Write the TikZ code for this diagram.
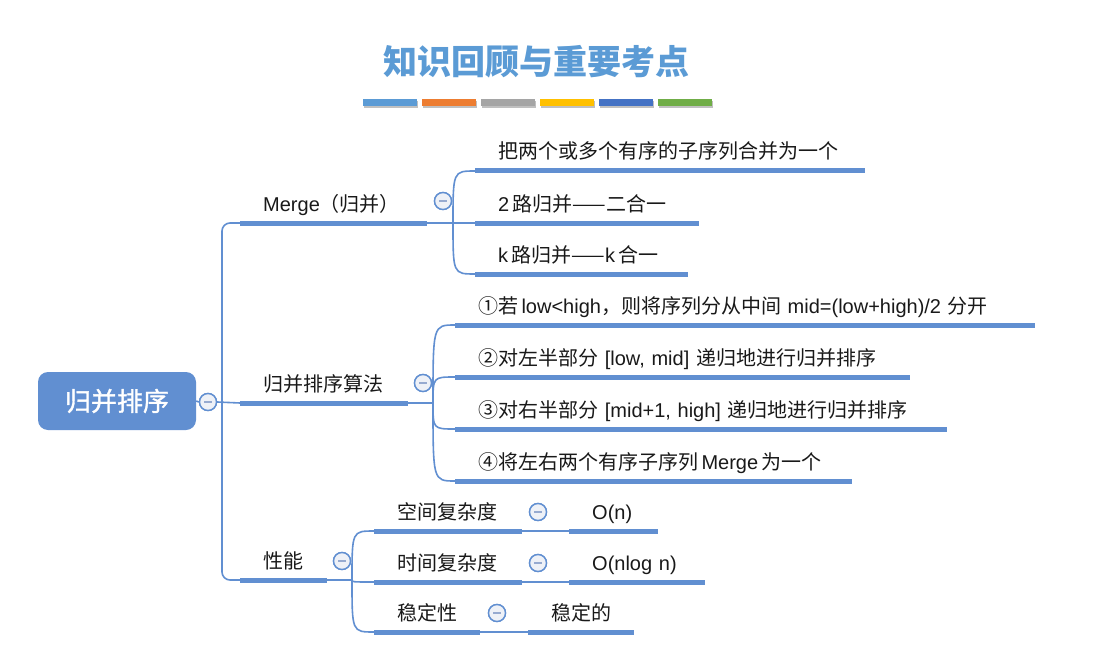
\documentclass[tikz,border=0pt]{standalone}
\usepackage{fontspec}
\setmainfont{Noto Sans CJK SC}
\newfontfamily\lat{Liberation Sans}
\newfontfamily\heavycjk{Noto Sans CJK SC}[FakeBold=1.3]
\usetikzlibrary{shadows}
\definecolor{mapblue}{RGB}{97,143,209}
\definecolor{titleblue}{RGB}{91,155,213}
\definecolor{foldfill}{RGB}{238,241,247}
\definecolor{foldmark}{RGB}{150,170,208}
\definecolor{barA}{RGB}{91,155,213}
\definecolor{barB}{RGB}{237,125,49}
\definecolor{barC}{RGB}{165,165,165}
\definecolor{barD}{RGB}{255,192,0}
\definecolor{barE}{RGB}{68,114,196}
\definecolor{barF}{RGB}{112,173,71}
\definecolor{inkgray}{RGB}{25,25,25}
\begin{document}
\begin{tikzpicture}[x=1pt,y=-1pt,
  conn/.style={draw=mapblue, line width=1.6pt},
  underline/.style={draw=mapblue, line width=5pt},
  topic/.style={anchor=south west, inner xsep=23pt, inner ysep=0pt,
    text height=15pt, text depth=11.8pt, align=left, text=inkgray,
    font=\fontsize{20}{24}\selectfont,
    execute at begin node=\hbox\bgroup, execute at end node=\egroup},
  fold/.style={circle, draw=mapblue, line width=1.4pt, fill=foldfill,
    minimum size=17pt, inner sep=0pt,
    path picture={\draw[foldmark, line width=1.8pt]
      ([xshift=-4pt]path picture bounding box.center) --
      ([xshift=4pt]path picture bounding box.center);}},
  rootbox/.style={rounded corners=10pt, fill=mapblue, text=white,
    minimum width=158pt, minimum height=58pt, inner sep=0pt,
    font=\fontsize{26}{30}\heavycjk},
  colorbar/.style={minimum width=54pt, minimum height=7pt, inner sep=0pt,
    anchor=north west,
    drop shadow={shadow xshift=0.5pt, shadow yshift=-2pt, opacity=0.35, fill=black!70}}
]
\fill[white] (0,0) rectangle (1099,655);
\useasboundingbox (0,0) rectangle (1099,655);

% heading and colour strip
\node[font=\fontsize{34}{40}\selectfont\bfseries, text=titleblue] (title) at (536,62) {知识回顾与重要考点};
\foreach \c [count=\i from 0] in {barA,barB,barC,barD,barE,barF}
  \node[colorbar, fill=\c] (bar\i) at (363+59*\i, 99) {};

% central topic
\node[rootbox] (root) at (117,401) {归并排序};
\node[fold] (rootf) at (208,402) {};
\coordinate (trunk) at (222,403);

% main branches
\node[topic, text width=141pt] (merge) at (240,223) {{\lat Merge}（归并）};
\node[topic, text width=122pt] (algo)  at (240,403) {归并排序算法};
\node[topic, text width=41pt]  (perf)  at (240,580) {性能};
\node[fold] (mergef) at (443,201) {};
\node[fold] (algof)  at (423,383) {};
\node[fold] (perff)  at (342,561) {};

% Merge details
\node[topic, text width=344pt] (mc1) at (475,171) {把两个或多个有序的子序列合并为一个};
\node[topic, text width=178pt] (mc2) at (475,223) {{\lat 2}\,路归并——二合一};
\node[topic, text width=167pt] (mc3) at (475,274) {{\lat k}\,路归并——{\lat k}\,合一};

% algorithm steps
\node[topic, text width=534pt] (ac1) at (455,325) {①若\,{\lat low<high}，则将序列分从中间 {\lat mid=(low+high)/2} 分开};
\node[topic, text width=409pt] (ac2) at (455,377) {②对左半部分 {\lat [low, mid]} 递归地进行归并排序};
\node[topic, text width=446pt] (ac3) at (455,429) {③对右半部分 {\lat [mid+1, high]} 递归地进行归并排序};
\node[topic, text width=351pt] (ac4) at (455,481) {④将左右两个有序子序列\,{\lat Merge}\,为一个};

% performance
\node[topic, text width=102pt] (pc1) at (374,531) {空间复杂度};
\node[topic, text width=102pt] (pc2) at (374,582) {时间复杂度};
\node[topic, text width=60pt]  (pc3) at (374,632) {稳定性};
\node[fold] (pf1) at (538,512) {};
\node[fold] (pf2) at (538,563) {};
\node[fold] (pf3) at (497,613) {};
\node[topic, text width=43pt] (pv1) at (569,531) {\lat O(n)};
\node[topic, text width=90pt] (pv2) at (569,582) {\lat O(nlog n)};
\node[topic, text width=60pt] (pv3) at (528,632) {稳定的};

% underlines
\foreach \n in {merge,algo,perf,mc1,mc2,mc3,ac1,ac2,ac3,ac4,pc1,pc2,pc3,pv1,pv2,pv3}
  \draw[underline] (\n.south west) -- (\n.south east);

% connectors from the central topic
\draw[conn] (root.east) -- (rootf.west);
\draw[conn] (rootf.east) -- (algo.south west);
\draw[conn, rounded corners=8pt] (trunk) |- (merge.south west);
\draw[conn, rounded corners=8pt] (trunk) |- (perf.south west);

% fan-out connectors
\coordinate (mfork) at (453,223);
\coordinate (afork) at (433,403);
\coordinate (pfork) at (352,580);
\draw[conn] (merge.south east) -- (mfork);
\draw[conn] (algo.south east) -- (afork);
\draw[conn] (perf.south east) -- (pfork);
\foreach \n in {mc1,mc2,mc3}
  \draw[conn] (mfork) .. controls (mfork |- \n.south west) .. (\n.south west);
\foreach \n in {ac1,ac2,ac3,ac4}
  \draw[conn] (afork) .. controls (afork |- \n.south west) .. (\n.south west);
\foreach \n in {pc1,pc2,pc3}
  \draw[conn] (pfork) .. controls (pfork |- \n.south west) .. (\n.south west);

% values
\draw[conn] (pc1.south east) -- (pv1.south west);
\draw[conn] (pc2.south east) -- (pv2.south west);
\draw[conn] (pc3.south east) -- (pv3.south west);

% keep the fold buttons above the lines
\foreach \p in {{208,402},{443,201},{423,383},{342,561},{538,512},{538,563},{497,613}}
  \node[fold] at (\p) {};
\end{tikzpicture}
\end{document}
